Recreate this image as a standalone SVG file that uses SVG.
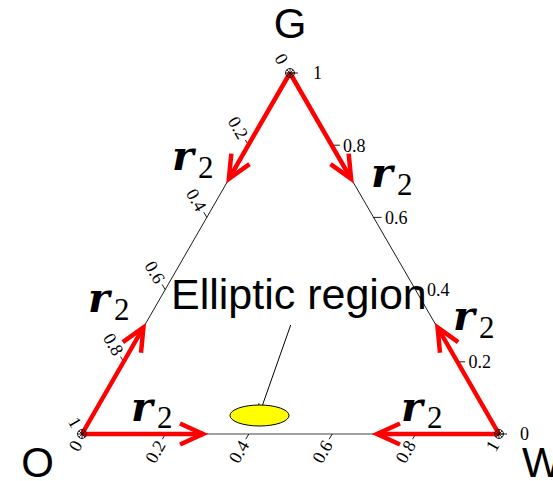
<svg xmlns="http://www.w3.org/2000/svg" xmlns:xlink="http://www.w3.org/1999/xlink" width="553" height="481" viewBox="0 0 553 481">
<style>
.edge{stroke:#000;stroke-width:0.9;fill:none}
.base{stroke:#808080;stroke-width:1.6;fill:none}
.tick{stroke:#000;stroke-width:0.9}
.tl{font-family:"Liberation Serif",serif;font-size:18px;fill:#000}
.big{font-family:"Liberation Sans",Arial,sans-serif;font-size:42px;fill:#000}
.red{stroke:#ff0000;stroke-width:4.5;fill:none;marker-end:url(#rh)}
.r{font-family:"DejaVu Serif",serif;font-weight:bold;font-style:italic;font-size:41px;fill:#000}
.s{font-family:"Liberation Serif",serif;font-size:31px;fill:#000}
</style>
<defs>
<marker id="rh" markerUnits="userSpaceOnUse" orient="auto" refX="0" refY="0" markerWidth="60" markerHeight="60" viewBox="-40 -30 60 60" overflow="visible">
<path d="M-23,-10.5 L0,0 L-23,10.5" fill="none" stroke="#ff0000" stroke-width="4.5" stroke-linejoin="miter"/>
</marker>
<marker id="bh" markerUnits="userSpaceOnUse" orient="auto" refX="0" refY="0" markerWidth="30" markerHeight="30" viewBox="-15 -15 30 30" overflow="visible">
<path d="M-11,-4 L0,0 L-11,4" fill="none" stroke="#000" stroke-width="1"/>
</marker>
<g id="vm">
<circle r="4.5" fill="none" stroke="#000" stroke-width="0.9"/>
<path d="M-4.5,0H4.5M0,-4.5V4.5M-3.2,-3.2L3.2,3.2M-3.2,3.2L3.2,-3.2" stroke="#000" stroke-width="0.8"/>
</g>
</defs>
<g id="axes">
<line class="edge" x1="290" y1="73" x2="82" y2="434"/>
<line class="edge" x1="290" y1="73" x2="499" y2="434"/>
<line class="base" x1="82" y1="434" x2="499" y2="434"/>
</g>
<g id="left-ticks">
<path class="tick" d="M248.4,145.2l-3,-5.2M206.8,217.4l-3,-5.2M165.2,289.6l-3,-5.2M123.6,361.8l-3,-5.2"/>
<text class="tl" text-anchor="end" dy="0.35em" transform="translate(284,62.6) rotate(60)">0</text>
<text class="tl" text-anchor="end" dy="0.35em" transform="translate(243.9,137.4) rotate(60)">0.2</text>
<text class="tl" text-anchor="end" dy="0.35em" transform="translate(202.3,209.6) rotate(60)">0.4</text>
<text class="tl" text-anchor="end" dy="0.35em" transform="translate(160.7,281.8) rotate(60)">0.6</text>
<text class="tl" text-anchor="end" dy="0.35em" transform="translate(119.1,354) rotate(60)">0.8</text>
<text class="tl" text-anchor="end" dy="0.35em" transform="translate(77.5,426.2) rotate(60)">1</text>
</g>
<g id="right-ticks">
<path class="tick" d="M290,73h8M331.8,145.2h8M373.6,217.4h8M415.4,289.6h8M457.2,361.8h8M499,434h8"/>
<text class="tl" x="313" y="79">1</text>
<text class="tl" x="343" y="151.5">0.8</text>
<text class="tl" x="385" y="223.5">0.6</text>
<text class="tl" x="427" y="295.5">0.4</text>
<text class="tl" x="468.5" y="368">0.2</text>
<text class="tl" x="520" y="440">0</text>
</g>
<g id="bottom-ticks">
<path class="tick" d="M165.4,434l-3,5.2M248.8,434l-3,5.2M332.2,434l-3,5.2M415.6,434l-3,5.2"/>
<text class="tl" text-anchor="end" dy="0.35em" transform="translate(77.5,441.8) rotate(-60)">0</text>
<text class="tl" text-anchor="end" dy="0.35em" transform="translate(160.9,441.8) rotate(-60)">0.2</text>
<text class="tl" text-anchor="end" dy="0.35em" transform="translate(244.3,441.8) rotate(-60)">0.4</text>
<text class="tl" text-anchor="end" dy="0.35em" transform="translate(327.7,441.8) rotate(-60)">0.6</text>
<text class="tl" text-anchor="end" dy="0.35em" transform="translate(411.1,441.8) rotate(-60)">0.8</text>
<text class="tl" text-anchor="end" dy="0.35em" transform="translate(494.5,441.8) rotate(-60)">1</text>
</g>
<g id="connectors">
<line class="red" x1="290" y1="73" x2="228.9" y2="178.8"/>
<line class="red" x1="290" y1="73" x2="351.1" y2="178.8"/>
<line class="red" x1="82" y1="434" x2="143.4" y2="327.5"/>
<line class="red" x1="499" y1="434" x2="437.6" y2="327.5"/>
<line class="red" x1="82" y1="434" x2="203" y2="434"/>
<line class="red" x1="499" y1="434" x2="377" y2="434"/>
<line x1="290.7" y1="325" x2="259" y2="415" stroke="#000" stroke-width="1" marker-end="url(#bh)"/>
</g>
<g id="vertex-markers">
<use xlink:href="#vm" x="290" y="73"/>
<use xlink:href="#vm" x="82" y="434"/>
<use xlink:href="#vm" x="499" y="434"/>
</g>
<g id="ellipse">
<ellipse cx="259.5" cy="415.5" rx="29.5" ry="10.5" fill="#ffff00" stroke="#000" stroke-width="1"/>
</g>
<g id="arrows-labels">
<text class="r" x="172" y="170">r</text><text class="s" x="198" y="178">2</text>
<text class="r" x="371" y="187">r</text><text class="s" x="397" y="195">2</text>
<text class="r" x="88" y="312">r</text><text class="s" x="114" y="320">2</text>
<text class="r" x="453" y="330">r</text><text class="s" x="479" y="338">2</text>
<text class="r" x="131" y="421">r</text><text class="s" x="157" y="428">2</text>
<text class="r" x="401" y="421">r</text><text class="s" x="427" y="428">2</text>
</g>
<g id="vertex-labels">
<text class="big" x="290" y="37.5" text-anchor="middle">G</text>
<text class="big" x="37.5" y="477" text-anchor="middle">O</text>
<text class="big" x="522" y="477">W</text>
</g>
<g id="region-label">
<text class="big" x="171" y="309" style="font-size:43px">Elliptic region</text>
</g>
</svg>
